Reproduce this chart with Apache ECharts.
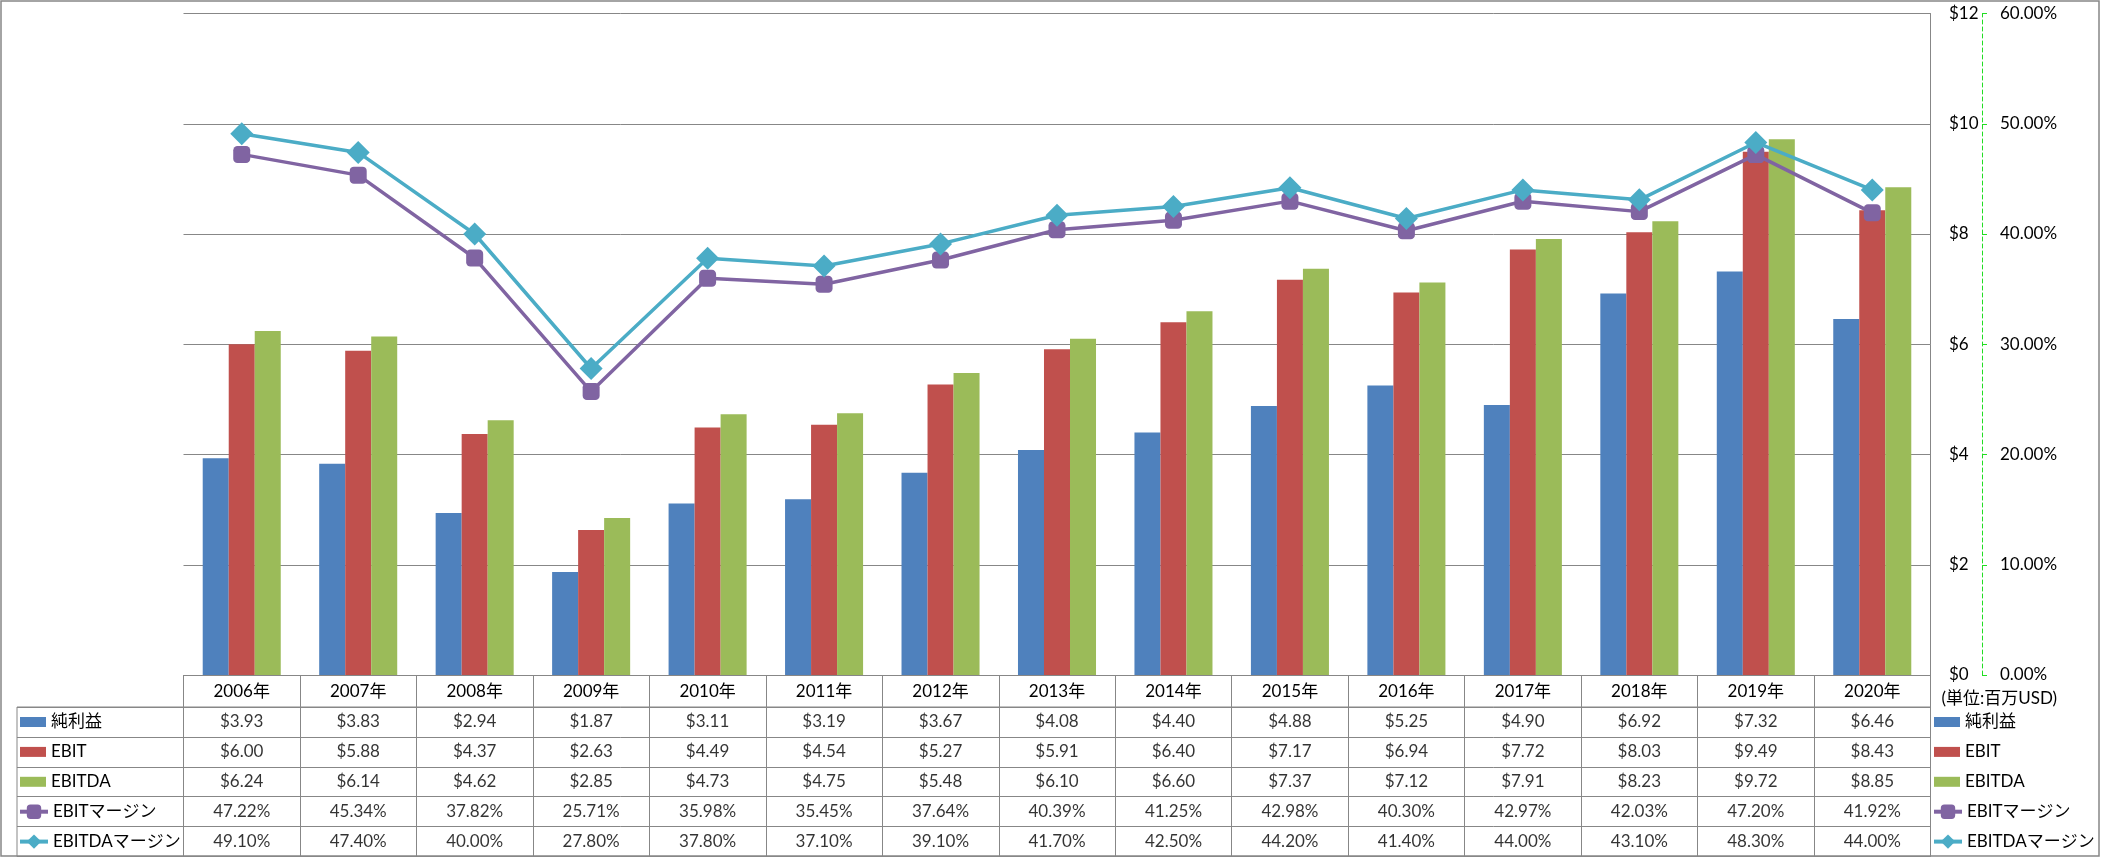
<!DOCTYPE html>
<html>
<head>
<meta charset="utf-8">
<script src="https://cdn.jsdelivr.net/npm/echarts@6/dist/echarts.min.js"></script>
<style>
html,body{margin:0;padding:0;background:#fff;}
#c{width:2101px;height:858px;}
</style>
</head>
<body>
<div id="c"></div>
<script>
const years = ['2006年','2007年','2008年','2009年','2010年','2011年','2012年','2013年','2014年','2015年','2016年','2017年','2018年','2019年','2020年'];
const netIncome = [3.93,3.83,2.94,1.87,3.11,3.19,3.67,4.08,4.40,4.88,5.25,4.90,6.92,7.32,6.46];
const ebit = [6.00,5.88,4.37,2.63,4.49,4.54,5.27,5.91,6.40,7.17,6.94,7.72,8.03,9.49,8.43];
const ebitda = [6.24,6.14,4.62,2.85,4.73,4.75,5.48,6.10,6.60,7.37,7.12,7.91,8.23,9.72,8.85];
const ebitMargin = [47.22,45.34,37.82,25.71,35.98,35.45,37.64,40.39,41.25,42.98,40.30,42.97,42.03,47.20,41.92];
const ebitdaMargin = [49.10,47.40,40.00,27.80,37.80,37.10,39.10,41.70,42.50,44.20,41.40,44.00,43.10,48.30,44.00];
const seriesNames = ['純利益','EBIT','EBITDA','EBITマージン','EBITDAマージン'];
const unitLabel = '(単位:百万USD)';
const dollarAxis = {min:0, max:12, interval:2};
const pctAxis = {min:0, max:60, interval:10};

const FONT = "Lato, 'Noto Sans CJK JP', sans-serif";
const GRAY = '#878787';
const colors = ['#4F81BD','#C0504D','#9BBB59','#8064A2','#4BACC6'];
const money = v => '$' + v.toFixed(2);
const pct = v => v.toFixed(2) + '%';
const tableRows = [
  {vals: netIncome, fmt: money},
  {vals: ebit, fmt: money},
  {vals: ebitda, fmt: money},
  {vals: ebitMargin, fmt: pct},
  {vals: ebitdaMargin, fmt: pct}
];

const chart = echarts.init(document.getElementById('c'), null, {renderer:'canvas'});

const ROW_TOP = 707, ROW_H = 29.9;
function makeLegend(left, names, rowStart, opts) {
  return Object.assign({
    orient:'vertical', left:left, top: ROW_TOP + rowStart * ROW_H + 5, padding:0,
    itemGap: ROW_H - 20, selectedMode:false, data: names,
    textStyle:{fontFamily:FONT, fontSize:17, color:'#000', lineHeight:20}
  }, opts);
}
const barLegendNames = seriesNames.slice(0,3).map(n => ({name:n, icon:'rect'}));
const lineLegendNames = seriesNames.slice(3);
const barLegOpts = {itemWidth:26, itemHeight:10};
const lineLegOpts = {itemWidth:28, itemHeight:18, lineStyle:{width:4}};

const tableSeries = tableRows.map((row, r) => ({
  type:'scatter', name:'tbl'+r, xAxisIndex:1, yAxisIndex:2, silent:true,
  symbol:'rect', symbolSize:1, itemStyle:{color:'rgba(0,0,0,0)'},
  data: years.map((_, i) => [i, r + 0.5]),
  label:{show:true, position:'inside', fontFamily:FONT, fontSize:17, color:'#000',
    formatter: p => row.fmt(row.vals[p.dataIndex])},
  z:5
}));

chart.setOption({
  animation:false,
  backgroundColor:'#fff',
  color: colors,
  textStyle:{fontFamily:FONT},
  graphic:[{type:'rect', shape:{x:1, y:1, width:2098, height:855}, style:{fill:null, stroke:GRAY, lineWidth:1.5}, silent:true}],
  legend:[
    makeLegend(20, barLegendNames, 0, barLegOpts),
    makeLegend(18, lineLegendNames, 3, lineLegOpts),
    makeLegend(1934, barLegendNames, 0, barLegOpts),
    makeLegend(1932, lineLegendNames, 3, lineLegOpts)
  ],
  grid:[
    {left:183.5, width:1747, top:13.5, height:661.5},
    {left:183.5, width:1747, top:707, height:149.5, show:true, borderColor:GRAY, borderWidth:1},
    {left:17, width:166.5, top:707, height:149.5, show:true, borderColor:GRAY, borderWidth:1}
  ],
  xAxis:[
    {type:'category', gridIndex:0, data:years,
      axisLine:{show:true, lineStyle:{color:GRAY, width:1}},
      axisTick:{show:true, length:32, interval:0, lineStyle:{color:GRAY, width:1}},
      axisLabel:{margin:8, fontSize:17, color:'#000', fontFamily:FONT, interval:0},
      splitLine:{show:false}},
    {type:'category', gridIndex:1, data:years,
      axisLine:{show:false}, axisTick:{show:false}, axisLabel:{show:false},
      splitLine:{show:true, interval:0, lineStyle:{color:GRAY, width:1}}},
    {type:'value', gridIndex:2, min:0, max:1, show:false}
  ],
  yAxis:[
    {type:'value', gridIndex:0, position:'right', min:dollarAxis.min, max:dollarAxis.max, interval:dollarAxis.interval,
      axisLine:{show:true, lineStyle:{color:GRAY, width:1}}, axisTick:{show:false},
      axisLabel:{margin:18.5, fontSize:17, color:'#000', fontFamily:FONT, formatter: v => '$' + v},
      splitLine:{show:true, lineStyle:{color:GRAY, width:1}},
      name: unitLabel, nameLocation:'start', nameGap:15,
      nameTextStyle:{fontSize:17, color:'#000', fontFamily:FONT, align:'left', padding:[0,0,0,11]}},
    {type:'value', gridIndex:0, position:'right', offset:51.5, min:pctAxis.min, max:pctAxis.max, interval:pctAxis.interval,
      axisLine:{show:true, lineStyle:{color:'#22DD22', width:1, type:[4,3]}},
      axisTick:{show:true, length:5, lineStyle:{color:'#22DD22', width:1}},
      axisLabel:{margin:18, fontSize:17, color:'#000', fontFamily:FONT, formatter: v => v.toFixed(2) + '%'},
      splitLine:{show:false}},
    {type:'value', gridIndex:1, min:0, max:5, interval:1, inverse:true,
      axisLine:{show:false}, axisTick:{show:false}, axisLabel:{show:false},
      splitLine:{show:true, lineStyle:{color:GRAY, width:1}}},
    {type:'value', gridIndex:2, min:0, max:5, interval:1, inverse:true,
      axisLine:{show:false}, axisTick:{show:false}, axisLabel:{show:false},
      splitLine:{show:true, lineStyle:{color:GRAY, width:1}}}
  ],
  series:[
    {type:'bar', name:seriesNames[0], data:netIncome, xAxisIndex:0, yAxisIndex:0, barGap:'0%', barCategoryGap:'33%', itemStyle:{color:colors[0]}},
    {type:'bar', name:seriesNames[1], data:ebit, xAxisIndex:0, yAxisIndex:0, barGap:'0%', barCategoryGap:'33%', itemStyle:{color:colors[1]}},
    {type:'bar', name:seriesNames[2], data:ebitda, xAxisIndex:0, yAxisIndex:0, barGap:'0%', barCategoryGap:'33%', itemStyle:{color:colors[2]}},
    {type:'line', name:seriesNames[3], data:ebitMargin, xAxisIndex:0, yAxisIndex:1, symbol:'roundRect', symbolSize:17,
      lineStyle:{color:colors[3], width:3.5}, itemStyle:{color:colors[3]}, z:3},
    {type:'line', name:seriesNames[4], data:ebitdaMargin, xAxisIndex:0, yAxisIndex:1, symbol:'diamond', symbolSize:23,
      lineStyle:{color:colors[4], width:3.5}, itemStyle:{color:colors[4]}, z:4}
  ].concat(tableSeries)
});
</script>
</body>
</html>
